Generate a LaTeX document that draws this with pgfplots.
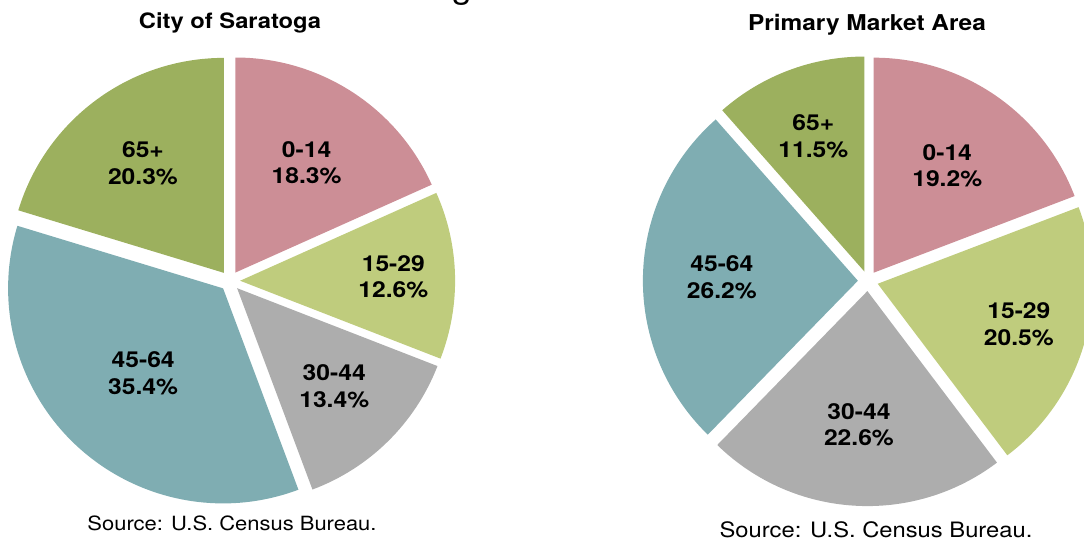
\documentclass[border=0pt]{standalone}
\usepackage{pgfplots}
\pgfplotsset{compat=1.18}
\usepackage{pgfplotstable}
\usepackage{fontspec}
\setmainfont{TeX Gyre Heros}[FakeStretch=1.12]

\definecolor{cA}{HTML}{CC8E96}
\definecolor{cB}{HTML}{BFCC7D}
\definecolor{cC}{HTML}{ADADAD}
\definecolor{cD}{HTML}{7FADB2}
\definecolor{cE}{HTML}{9CB05E}

% pct = share in percent, lr = label distance (fraction of radius)
\pgfplotstableread{
name pct lr col
0-14 18.3 0.655 cA
15-29 12.6 0.76 cB
30-44 13.4 0.69 cC
45-64 35.4 0.59 cD
65+ 20.3 0.68 cE
}\saratoga

\pgfplotstableread{
name pct lr col
0-14 19.2 0.65 cA
15-29 20.5 0.73 cB
30-44 22.6 0.67 cC
45-64 26.2 0.68 cD
65+ 11.5 0.72 cE
}\pma

\newcommand{\labfont}{\fontsize{11}{13.3}\selectfont\bfseries}

% draws an exploded pie from a table, inside an axis (1 unit = radius)
\newcommand{\drawpie}[1]{%
  \pgfplotstablegetrowsof{#1}%
  \pgfmathtruncatemacro\lastrow{\pgfplotsretval-1}%
  \def\cum{0}%
  \def\dd{0.047}%
  \pgfplotsforeachungrouped \i in {0,...,\lastrow}{%
    \pgfplotstablegetelem{\i}{pct}\of{#1}\let\p\pgfplotsretval
    \pgfplotstablegetelem{\i}{lr}\of{#1}\let\lr\pgfplotsretval
    \pgfplotstablegetelem{\i}{col}\of{#1}\let\col\pgfplotsretval
    \pgfplotstablegetelem{\i}{name}\of{#1}\let\nm\pgfplotsretval
    \pgfmathsetmacro\sa{90-3.6*\cum}%
    \pgfmathsetmacro\ea{90-3.6*(\cum+\p)}%
    \pgfmathsetmacro\ma{(\sa+\ea)/2}%
    \pgfmathsetmacro\ox{\dd*cos(\ma)}%
    \pgfmathsetmacro\oy{\dd*sin(\ma)}%
    \pgfmathsetmacro\sx{\ox+cos(\sa)}%
    \pgfmathsetmacro\sy{\oy+sin(\sa)}%
    \pgfmathsetmacro\lx{\lr*cos(\ma)}%
    \pgfmathsetmacro\ly{\lr*sin(\ma)}%
    \edef\temp{%
      \noexpand\fill[\col] (axis cs:\ox,\oy) -- (axis cs:\sx,\sy)
        arc[start angle=\sa, end angle=\ea, radius=107.5pt] -- cycle;
      \noexpand\node[font=\noexpand\labfont, align=center, text=black]
        at (axis cs:\lx,\ly) {\nm\noexpand\\\p\noexpand\%};
    }%
    \temp
    \pgfmathsetmacro\cum{\cum+\p}%
  }%
}

\pgfplotsset{pieaxis/.style={
  hide axis, x=107.5pt, y=107.5pt,
  xmin=-1.2, xmax=1.2, ymin=-1.2, ymax=1.2,
  anchor=center, clip=false}}

\begin{document}
\begin{tikzpicture}
\begin{axis}[pieaxis, at={(115pt,130.5pt)}]
  \drawpie{\saratoga}
\end{axis}
\begin{axis}[pieaxis, at={(434pt,130.5pt)}]
  \drawpie{\pma}
\end{axis}

\node[anchor=base, font=\fontsize{10.6}{12}\selectfont\bfseries, inner sep=0]
  at (115pt,256.5pt) {City of Saratoga};
\node[anchor=base, font=\fontsize{10.9}{12}\selectfont\bfseries, inner sep=0]
  at (433.5pt,255.75pt) {Primary Market Area};
\node[anchor=base, font=\fontsize{9.8}{12}\selectfont, inner sep=0]
  at (116pt,5.5pt) {Source: U.S. Census Bureau.};
\node[anchor=base, font=\fontsize{10.6}{12}\selectfont, inner sep=0]
  at (438pt,2pt) {Source: U.S. Census Bureau.};
\node[anchor=base west, font=\fontsize{16}{18}\selectfont, inner sep=0]
  at (214pt,271.75pt) {Age Distribution};

\pgfresetboundingbox
\useasboundingbox (0,0) rectangle (542pt,271pt);
\end{tikzpicture}
\end{document}
